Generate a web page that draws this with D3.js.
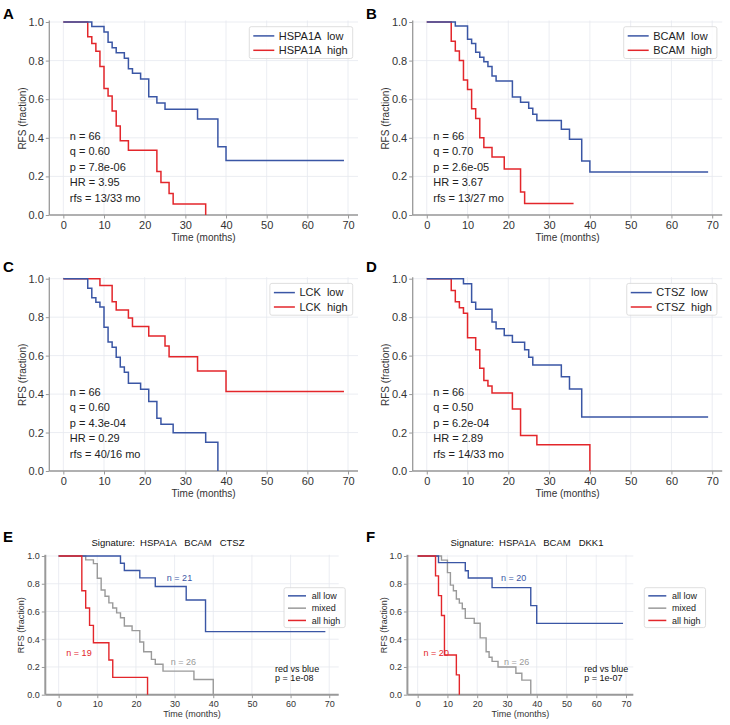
<!DOCTYPE html>
<html><head><meta charset="utf-8">
<script src="https://cdn.jsdelivr.net/npm/d3@7"></script>
<style>
body{margin:0;background:#fff}
svg text{font-family:"Liberation Sans",Arial,sans-serif}
</style>
</head><body>
<svg id="c" width="730" height="725"></svg>
<script>
// ---------- data ----------
const xTicks = [0,10,20,30,40,50,60,70];
const yTicks = [0,0.2,0.4,0.6,0.8,1.0];
const xDomain = [-3.45, 72.45];

const A_low  = [[0,1],[7,0.977],[10,0.948],[11,0.895],[12,0.867],[13,0.841],[15,0.812],[16,0.758],[17,0.734],[19,0.705],[21,0.613],[23,0.58],[25,0.548],[33,0.497],[38,0.354],[40,0.283],[69,0.283]];
const A_high = [[0,1],[6,0.923],[7,0.888],[8,0.848],[9,0.769],[10,0.655],[11,0.617],[12,0.539],[13,0.461],[14,0.385],[16,0.335],[23,0.226],[24,0.168],[26,0.112],[27,0.057],[35,0],[35,0]];
const B_low  = [[0,1],[7,0.979],[10,0.91],[11,0.889],[12,0.843],[13,0.817],[14,0.794],[15,0.769],[16,0.72],[17,0.694],[21,0.611],[23,0.584],[25,0.553],[26,0.522],[27,0.489],[33,0.444],[35,0.392],[38,0.28],[40,0.223],[69,0.223]];
const B_high = [[0,1],[6,0.9],[7,0.85],[8,0.8],[9,0.7],[10,0.65],[11,0.55],[12,0.5],[13,0.4],[14,0.35],[16,0.3],[19,0.238],[23,0.119],[24,0.06],[36,0.06]];
const C_low  = [[0,1],[6,0.95],[7,0.901],[8,0.877],[9,0.853],[10,0.747],[11,0.671],[12,0.643],[13,0.591],[14,0.541],[15,0.513],[16,0.456],[19,0.425],[21,0.362],[23,0.274],[24,0.243],[27,0.199],[35,0.149],[38,0],[38,0]];
const C_high = [[0,1],[9,0.964],[12,0.88],[13,0.837],[16,0.795],[17,0.752],[21,0.702],[25,0.65],[26,0.594],[33,0.52],[40,0.414],[69,0.414]];
const D_low  = [[0,1],[9,0.974],[11,0.877],[12,0.841],[16,0.775],[17,0.74],[19,0.705],[21,0.669],[24,0.631],[25,0.591],[26,0.551],[33,0.49],[35,0.426],[38,0.281],[69,0.281]];
const D_high = [[0,1],[6,0.939],[7,0.88],[8,0.849],[9,0.82],[10,0.693],[12,0.631],[13,0.534],[14,0.47],[15,0.442],[16,0.406],[21,0.322],[23,0.184],[27,0.137],[40,0],[40,0]];
const E_low   = [[0,1],[16,0.948],[17,0.895],[21,0.842],[25,0.78],[33,0.683],[38,0.455],[69,0.455]];
const E_mixed = [[0,1],[7,0.972],[9,0.945],[10,0.84],[11,0.755],[12,0.71],[13,0.662],[14,0.625],[15,0.59],[16,0.555],[17,0.495],[19,0.462],[21,0.38],[22,0.31],[24,0.255],[25,0.22],[27,0.17],[35,0.11],[40,0],[40,0]];
const E_high  = [[0,1],[6,0.75],[7,0.625],[8,0.5],[9,0.375],[13,0.25],[14,0.125],[23,0],[23,0]];
const F_low   = [[0,1],[7,0.952],[16,0.894],[17,0.841],[25,0.772],[38,0.642],[40,0.514],[69,0.514]];
const F_mixed = [[0,1],[8,0.97],[10,0.88],[11,0.79],[12,0.75],[13,0.69],[14,0.66],[15,0.62],[16,0.55],[19,0.515],[21,0.41],[23,0.31],[24,0.27],[25,0.24],[27,0.2],[33,0.155],[35,0.105],[38,0],[38,0]];
const F_high  = [[0,1],[6,0.857],[7,0.714],[8,0.571],[9,0.286],[13,0.143],[14,0],[14,0]];

const geneNames = ["HSPA1A","BCAM","LCK","CTSZ"];
const A_stats = ["n = 66","q = 0.60","p = 7.8e-06","HR = 3.95","rfs = 13/33 mo"];
const B_stats = ["n = 66","q = 0.70","p = 2.6e-05","HR = 3.67","rfs = 13/27 mo"];
const C_stats = ["n = 66","q = 0.60","p = 4.3e-04","HR = 0.29","rfs = 40/16 mo"];
const D_stats = ["n = 66","q = 0.50","p = 6.2e-04","HR = 2.89","rfs = 14/33 mo"];
const E_title = "Signature:  HSPA1A   BCAM   CTSZ";
const F_title = "Signature:  HSPA1A   BCAM   DKK1";
const sigLegend = ["all low","mixed","all high"];
const E_counts = ["n = 21","n = 26","n = 19"];
const F_counts = ["n = 20","n = 26","n = 20"];
const E_pval = ["red vs blue","p = 1e-08"];
const F_pval = ["red vs blue","p = 1e-07"];

// ---------- style ----------
const BLUE = "#3a56a5", RED = "#e3262b", GRAY = "#9a9a9a";
const GRID = "#e6e9ef", SPINE = "#999";
const svg = d3.select("#c");

function frame(g, x, y, o) {
  const [xl, xr] = x.range();
  const yb = y(0), yt = y(1) - o.headroom;
  // grid
  g.append("g").selectAll("line").data(xTicks).join("line")
    .attr("x1", d => x(d)).attr("x2", d => x(d)).attr("y1", yb).attr("y2", yt)
    .attr("stroke", GRID).attr("stroke-width", 0.8);
  g.append("g").selectAll("line").data(yTicks).join("line")
    .attr("x1", xl).attr("x2", xr).attr("y1", d => y(d)).attr("y2", d => y(d))
    .attr("stroke", GRID).attr("stroke-width", 0.8);
  // axes
  const ax = g.append("g").attr("transform", `translate(${xl},0)`)
    .call(d3.axisLeft(y).tickValues(yTicks).tickFormat(d3.format(".1f")).tickSize(3.5).tickPadding(2));
  const bx = g.append("g").attr("transform", `translate(0,${yb})`)
    .call(d3.axisBottom(x).tickValues(xTicks).tickFormat(d3.format("d")).tickSize(3.5).tickPadding(o.xpad));
  [ax, bx].forEach(a => {
    a.select(".domain").remove();
    a.selectAll(".tick line").attr("stroke", SPINE).attr("stroke-width", 1);
    a.selectAll(".tick text").attr("fill", "#333").style("font-size", o.tickFont + "px")
      .style("font-family", '"Liberation Sans",Arial,sans-serif');
  });
  // spines
  g.append("line").attr("x1", xl).attr("x2", xl).attr("y1", yt).attr("y2", yb)
    .attr("stroke", SPINE).attr("stroke-width", o.spineW);
  g.append("line").attr("x1", xl).attr("x2", xr).attr("y1", yb).attr("y2", yb)
    .attr("stroke", SPINE).attr("stroke-width", o.spineW);
  // labels
  g.append("text").attr("x", (xl + xr) / 2).attr("y", yb + o.xlab)
    .attr("text-anchor", "middle").attr("fill", "#333").style("font-size", o.labFont + "px").text("Time (months)");
  g.append("text").attr("transform", `translate(${xl - o.ylab},${(yb + y(1)) / 2}) rotate(-90)`)
    .attr("text-anchor", "middle").attr("dy", "0.35em").attr("fill", "#333").style("font-size", o.labFont + "px").text("RFS (fraction)");
}

function curve(g, x, y, data, color, w) {
  const line = d3.line().x(d => x(d[0])).y(d => y(d[1])).curve(d3.curveStepAfter);
  g.append("path").attr("d", line(data)).attr("fill", "none").attr("stroke", color)
    .attr("stroke-width", w).attr("stroke-linejoin", "miter");
}

function legend(g, left, top, rows, rowH, lineLen, textOff, font) {
  const lg = g.append("g");
  const box = lg.append("rect").attr("x", left).attr("y", top).attr("rx", 2)
    .attr("fill", "#fff").attr("fill-opacity", 0.85).attr("stroke", "#d5d5d5").attr("stroke-width", 0.8);
  let maxW = 0;
  rows.forEach((r, i) => {
    const cy = top + rowH * 0.5 + 2 + i * rowH;
    lg.append("line").attr("x1", left + 4).attr("x2", left + 4 + lineLen).attr("y1", cy).attr("y2", cy)
      .attr("stroke", r.color).attr("stroke-width", 1.5);
    const t = lg.append("text").attr("x", left + textOff).attr("y", cy).attr("dy", "0.35em")
      .style("font-size", font + "px").style("white-space", "pre").attr("fill", "#222").text(r.label);
    maxW = Math.max(maxW, t.node().getComputedTextLength());
  });
  box.attr("width", textOff + maxW + 5).attr("height", rows.length * rowH + 3);
  return box;
}

function panelLetter(x0, y0, s) {
  svg.append("text").attr("x", x0).attr("y", y0).style("font-size", "15px").style("font-weight", "bold")
    .attr("fill", "#000").text(s);
}

const topOpts = {headroom: 1.5, tickFont: 11, labFont: 10, spineW: 1.3, xpad: 3, xlab: 25.5, ylab: 27};
const topPanels = [
  {xr: [49.3, 358], yr: [215, 22], low: A_low, high: A_high, gene: geneNames[0], stats: A_stats, letter: "A", lx: 3, ly: 19},
  {xr: [412.7, 722.2], yr: [215, 22], low: B_low, high: B_high, gene: geneNames[1], stats: B_stats, letter: "B", lx: 366, ly: 19},
  {xr: [49.3, 358], yr: [471, 278.7], low: C_low, high: C_high, gene: geneNames[2], stats: C_stats, letter: "C", lx: 3, ly: 272},
  {xr: [412.7, 722.2], yr: [471, 278.7], low: D_low, high: D_high, gene: geneNames[3], stats: D_stats, letter: "D", lx: 366, ly: 272}
];

topPanels.forEach(p => {
  const g = svg.append("g");
  const x = d3.scaleLinear().domain(xDomain).range(p.xr);
  const y = d3.scaleLinear().domain([0, 1]).range(p.yr);
  frame(g, x, y, topOpts);
  curve(g, x, y, p.high, RED, 1.5);
  curve(g, x, y, p.low, BLUE, 1.5);
  // stats text
  p.stats.forEach((s, i) => {
    g.append("text").attr("x", x(0) + 6.5).attr("y", y(0) - 79 + i * 15.5).attr("dy", "0.35em")
      .style("font-size", "11px").attr("fill", "#222").text(s);
  });
  // legend
  const rows = [{label: p.gene + "  low", color: BLUE}, {label: p.gene + "  high", color: RED}];
  const box = legend(g, 0, y(1) + 4.7, rows, 14.4, 21, 29.5, 11);
  const w = +box.attr("width");
  box.node().parentNode.setAttribute("transform", `translate(${p.xr[1] - 5.3 - w},0)`);
  panelLetter(p.lx, p.ly, p.letter);
});

const botOpts = {headroom: 1.2, tickFont: 9, labFont: 9, spineW: 2, xpad: 2.5, xlab: 22, ylab: 24};
const botPanels = [
  {xr: [45.3, 338.7], yr: [694.7, 556], low: E_low, mixed: E_mixed, high: E_high, title: E_title, tx: 168,
   counts: E_counts, pval: E_pval, lgLeft: 284, letter: "E", lx: 3, ly: 541.5},
  {xr: [407.4, 633.3], yr: [694.7, 556], low: F_low, mixed: F_mixed, high: F_high, title: F_title, tx: 527,
   counts: F_counts, pval: F_pval, lgLeft: 644.3, letter: "F", lx: 366, ly: 541.5}
];

botPanels.forEach(p => {
  const g = svg.append("g");
  const x = d3.scaleLinear().domain(xDomain).range(p.xr);
  const y = d3.scaleLinear().domain([0, 1]).range(p.yr);
  frame(g, x, y, botOpts);
  curve(g, x, y, p.mixed, GRAY, 1.4);
  curve(g, x, y, p.low, BLUE, 1.4);
  curve(g, x, y, p.high, RED, 1.4);
  g.append("text").attr("x", p.tx).attr("y", 543).attr("dy", "0.35em").attr("text-anchor", "middle")
    .style("font-size", "9.5px").style("white-space", "pre").attr("fill", "#111").text(p.title);
  // group counts
  const cpos = [[28, 0.846, BLUE], [29, 0.238, GRAY], [2, 0.3, RED]];
  p.counts.forEach((c, i) => {
    g.append("text").attr("x", x(cpos[i][0])).attr("y", y(cpos[i][1])).attr("dy", "0.35em")
      .style("font-size", "9px").attr("fill", cpos[i][2]).text(c);
  });
  p.pval.forEach((s, i) => {
    g.append("text").attr("x", x(56)).attr("y", 668.5 + i * 9).attr("dy", "0.35em")
      .style("font-size", "9px").attr("fill", "#111").text(s);
  });
  legend(g, p.lgLeft, 587.7, [{label: sigLegend[0], color: BLUE}, {label: sigLegend[1], color: GRAY}, {label: sigLegend[2], color: RED}],
    12.3, 18, 27.7, 9);
  panelLetter(p.lx, p.ly, p.letter);
});
</script>
</body></html>
